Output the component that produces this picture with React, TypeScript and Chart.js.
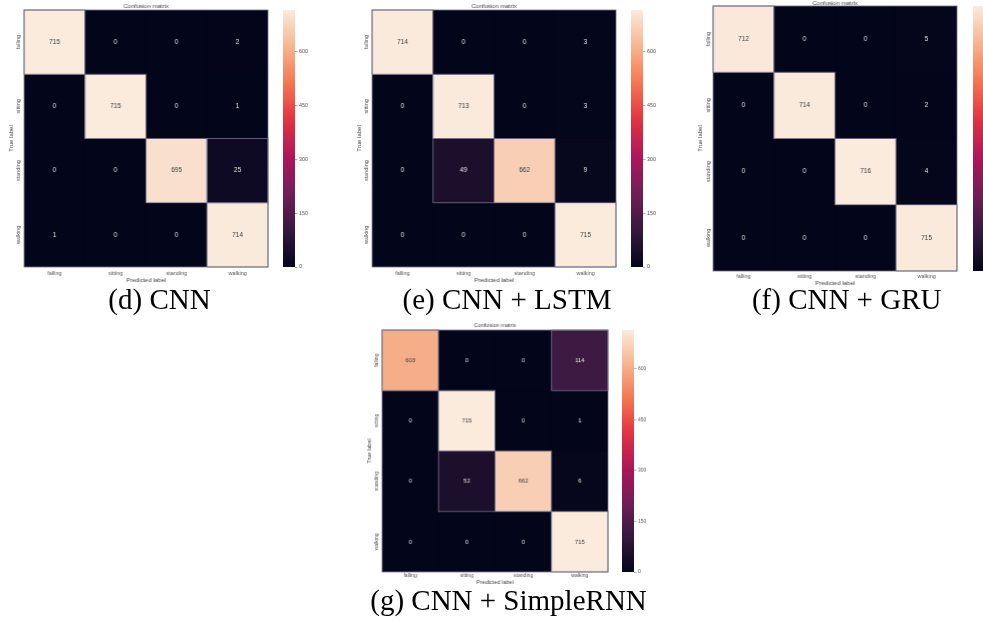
import React, { useEffect, useRef } from 'react';
import { Chart, registerables } from 'chart.js';

Chart.register(...registerables);

// ---------------- data ----------------
const CLASSES = ['falling', 'sitting', 'standing', 'walking'];

const CM_CNN = [
  [715, 0, 0, 2],
  [0, 715, 0, 1],
  [0, 0, 695, 25],
  [1, 0, 0, 714],
];
const CM_LSTM = [
  [714, 0, 0, 3],
  [0, 713, 0, 3],
  [0, 49, 662, 9],
  [0, 0, 0, 715],
];
const CM_GRU = [
  [712, 0, 0, 5],
  [0, 714, 0, 2],
  [0, 0, 716, 4],
  [0, 0, 0, 715],
];
const CM_RNN = [
  [603, 0, 0, 114],
  [0, 715, 0, 1],
  [0, 52, 662, 6],
  [0, 0, 0, 715],
];

const COLORBAR_TICKS = [0, 150, 300, 450, 600];
const CAPTIONS = ['(d) CNN', '(e) CNN + LSTM', '(f) CNN + GRU', '(g) CNN + SimpleRNN'];
const PLOT_TITLE = 'Confusion matrix';
const X_TITLE = 'Predicted label';
const Y_TITLE = 'True label';

// ---------------- style ----------------
const FONT = '"Liberation Sans", Arial, sans-serif';
const SERIF = '"Liberation Serif", "Times New Roman", serif';
const EDGE = 'rgba(115,113,135,0.9)';

const ROCKET: [number, number[]][] = [
  [0, [3, 5, 26]],
  [1 / 7, [53, 25, 62]],
  [2 / 7, [112, 31, 87]],
  [3 / 7, [173, 23, 89]],
  [4 / 7, [225, 51, 66]],
  [5 / 7, [243, 118, 81]],
  [6 / 7, [246, 180, 143]],
  [1, [250, 235, 221]],
];

function rocket(t: number): string {
  const tt = Math.max(0, Math.min(1, t));
  for (let i = 1; i < ROCKET.length; i++) {
    const [p1, c1] = ROCKET[i];
    const [p0, c0] = ROCKET[i - 1];
    if (tt <= p1) {
      const f = (tt - p0) / (p1 - p0);
      const c = c0.map((v, k) => Math.round(v + (c1[k] - v) * f));
      return `rgb(${c[0]},${c[1]},${c[2]})`;
    }
  }
  const c = ROCKET[ROCKET.length - 1][1];
  return `rgb(${c[0]},${c[1]},${c[2]})`;
}

function isLight(t: number): boolean {
  return t > 0.6;
}

// ---------------- layout ----------------
type Panel = {
  cm: number[][];
  caption: string;
  L: number; T: number; R: number; B: number;
  cbL: number; cbR: number;
  titleY: number;
  tickGapX: number; labelGapX: number;
  tickGapY: number; labelGapY: number;
  scale: number;
  capX: number; capBase: number;
};

const PANELS: Panel[] = [
  { cm: CM_CNN, caption: CAPTIONS[0], L: 24.3, T: 10, R: 268, B: 267, cbL: 283, cbR: 295, titleY: 6,
    tickGapX: 6, labelGapX: 13, tickGapY: 6, labelGapY: 13, scale: 1, capX: 159.5, capBase: 309 },
  { cm: CM_LSTM, caption: CAPTIONS[1], L: 372.3, T: 10, R: 615.7, B: 267, cbL: 631, cbR: 643, titleY: 6,
    tickGapX: 6, labelGapX: 13, tickGapY: 5.6, labelGapY: 13, scale: 1, capX: 507, capBase: 309 },
  { cm: CM_GRU, caption: CAPTIONS[2], L: 713.3, T: 6, R: 956.7, B: 271, cbL: 972.7, cbR: 984.7, titleY: 3,
    tickGapX: 5.7, labelGapX: 12, tickGapY: 5, labelGapY: 12.6, scale: 1, capX: 846.7, capBase: 309 },
  { cm: CM_RNN, caption: CAPTIONS[3], L: 382.3, T: 330, R: 607.7, B: 571.7, cbL: 621.7, cbR: 634, titleY: 325.7,
    tickGapX: 3.8, labelGapX: 10, tickGapY: 5.6, labelGapY: 12.3, scale: 0.93, capX: 508.5, capBase: 610 },
];

const YW = 20;
const XH = 20;
const TITLE_BOX = 10;

function makeOverlay(p: Panel, vmax: number) {
  return {
    id: 'heatOverlay',
    beforeDatasetsDraw(chart: any) {
      const { ctx, chartArea: a } = chart;
      ctx.save();
      ctx.fillStyle = rocket(0);
      ctx.fillRect(a.left, a.top, a.width, a.height);
      ctx.restore();
    },
    afterDatasetsDraw(chart: any) {
      const { ctx, chartArea: a } = chart;
      ctx.save();
      // cell edges
      ctx.strokeStyle = EDGE;
      ctx.lineWidth = 0.9;
      chart.data.datasets.forEach((ds: any, i: number) => {
        const meta = chart.getDatasetMeta(i);
        meta.data.forEach((el: any, j: number) => {
          const raw = ds.data[j];
          if (raw.v <= 10) return;
          const { x, y, base, width } = el.getProps(['x', 'y', 'base', 'width'], true);
          ctx.strokeRect(x - width / 2, Math.min(y, base), width, Math.abs(base - y));
        });
      });
      ctx.strokeRect(a.left, a.top, a.width, a.height);
      // annotations
      ctx.font = `${6.4 * p.scale}px ${FONT}`;
      ctx.textAlign = 'center';
      ctx.textBaseline = 'middle';
      chart.data.datasets.forEach((ds: any, i: number) => {
        const meta = chart.getDatasetMeta(i);
        meta.data.forEach((el: any, j: number) => {
          const raw = ds.data[j];
          const c = el.getCenterPoint();
          ctx.fillStyle = isLight(raw.v / vmax) ? '#3a3a3a' : '#e6e6e6';
          ctx.fillText(String(raw.v), c.x, c.y);
        });
      });
      // rotated y tick labels
      const ys = chart.scales.y;
      ctx.font = `${5.5 * p.scale}px ${FONT}`;
      ctx.fillStyle = '#555';
      CLASSES.forEach((label, i) => {
        const yy = ys.getPixelForValue(i + 0.5);
        ctx.save();
        ctx.translate(a.left - p.tickGapY, yy);
        ctx.rotate(-Math.PI / 2);
        ctx.fillText(label, 0, 0);
        ctx.restore();
      });
      ctx.restore();
    },
  };
}

function Heatmap({ p }: { p: Panel }) {
  const ref = useRef<HTMLCanvasElement>(null);
  const top = p.T - TITLE_BOX;
  const left = p.L - YW;
  const width = YW + (p.R - p.L) + 2;
  const height = TITLE_BOX + (p.B - p.T) + XH;

  useEffect(() => {
    if (!ref.current) return;
    const vmax = Math.max(...p.cm.flat());
    const fsTick = 5.5 * p.scale;
    const fsTitle = 6 * p.scale;
    const titlePadTop = p.titleY - top - fsTitle / 2;
    const titlePadBottom = TITLE_BOX - fsTitle - titlePadTop;

    const datasets = p.cm.map((row, i) => ({
      label: CLASSES[i],
      data: row.map((v, j) => ({ x: CLASSES[j], y: 1, v })),
      backgroundColor: row.map((v) => rocket(v / vmax)),
      borderWidth: 0,
      barPercentage: 1,
      categoryPercentage: 1,
    }));

    const chart = new Chart(ref.current, {
      type: 'bar',
      data: { labels: CLASSES, datasets },
      options: {
        responsive: false,
        animation: false,
        devicePixelRatio: 1,
        layout: { padding: { left: 0, right: 2, top: 0, bottom: 0 } },
        plugins: {
          legend: { display: false },
          tooltip: { enabled: false },
          title: {
            display: true,
            text: PLOT_TITLE,
            fullSize: false,
            color: '#444',
            font: { family: FONT, size: fsTitle, lineHeight: 1, weight: 'normal' },
            padding: { top: titlePadTop, bottom: titlePadBottom },
          },
        },
        scales: {
          x: {
            type: 'category',
            stacked: true,
            offset: true,
            grid: { display: false, drawTicks: false },
            border: { display: false },
            ticks: {
              color: '#555',
              font: { family: FONT, size: fsTick, lineHeight: 1 },
              padding: p.tickGapX - fsTick / 2,
              maxRotation: 0,
              minRotation: 0,
              autoSkip: false,
            },
            title: {
              display: true,
              text: X_TITLE,
              color: '#444',
              font: { family: FONT, size: fsTitle, lineHeight: 1 },
              padding: { top: 0, bottom: XH - p.labelGapX - fsTitle / 2 },
            },
            afterFit: (s: any) => { s.height = XH; },
          },
          y: {
            type: 'linear',
            stacked: true,
            min: 0,
            max: CLASSES.length,
            reverse: true,
            grid: { display: false, drawTicks: false },
            border: { display: false },
            ticks: { display: false },
            title: {
              display: true,
              text: Y_TITLE,
              color: '#444',
              font: { family: FONT, size: fsTitle, lineHeight: 1 },
              padding: { top: YW - p.labelGapY - fsTitle / 2, bottom: 0 },
            },
            afterFit: (s: any) => { s.width = YW; },
          },
        },
      } as any,
      plugins: [makeOverlay(p, vmax)],
    });
    return () => chart.destroy();
  }, [p]);

  return (
    <canvas
      ref={ref}
      width={width}
      height={height}
      style={{ position: 'absolute', left, top, width, height }}
    />
  );
}

function Colorbar({ p }: { p: Panel }) {
  const ref = useRef<HTMLCanvasElement>(null);
  const AW = 26;
  const PAD = 6;
  const left = p.cbL;
  const top = p.T - PAD;
  const width = p.cbR - p.cbL + AW;
  const height = p.B - p.T + PAD * 2;

  useEffect(() => {
    if (!ref.current) return;
    const vmax = Math.max(...p.cm.flat());
    const chart = new Chart(ref.current, {
      type: 'bar',
      data: {
        labels: [''],
        datasets: [
          {
            data: [vmax],
            borderWidth: 0,
            barPercentage: 1,
            categoryPercentage: 1,
            backgroundColor: (c: any) => {
              const a = c.chart.chartArea;
              if (!a) return rocket(0);
              const g = c.chart.ctx.createLinearGradient(0, a.bottom, 0, a.top);
              for (let i = 0; i <= 40; i++) g.addColorStop(i / 40, rocket(i / 40));
              return g;
            },
          },
        ],
      },
      options: {
        responsive: false,
        animation: false,
        devicePixelRatio: 1,
        layout: { padding: { left: 0, right: 0, top: PAD, bottom: PAD } },
        plugins: { legend: { display: false }, tooltip: { enabled: false } },
        scales: {
          x: { display: false, offset: true },
          y: {
            position: 'right',
            min: 0,
            max: vmax,
            grid: { display: true, drawOnChartArea: false, drawTicks: true, tickLength: 2.5, color: '#777', lineWidth: 0.6 },
            border: { display: false },
            afterBuildTicks: (s: any) => { s.ticks = COLORBAR_TICKS.map((v) => ({ value: v })); },
            ticks: {
              color: '#555',
              padding: 1.5,
              font: { family: FONT, size: 5.4 * p.scale, lineHeight: 1 },
            },
            afterFit: (s: any) => { s.width = AW; },
          },
        },
      } as any,
    });
    return () => chart.destroy();
  }, [p]);

  return (
    <canvas
      ref={ref}
      width={width}
      height={height}
      style={{ position: 'absolute', left, top, width, height }}
    />
  );
}

export default function App() {
  return (
    <div
      style={{
        position: 'absolute',
        left: 0,
        top: 0,
        width: 983,
        height: 623,
        overflow: 'hidden',
        background: '#fff',
      }}
    >
      {PANELS.map((p, i) => (
        <React.Fragment key={i}>
          <Heatmap p={p} />
          <Colorbar p={p} />
          <div
            style={{
              position: 'absolute',
              left: p.capX - 200,
              width: 400,
              top: p.capBase - 24.3,
              textAlign: 'center',
              fontFamily: SERIF,
              fontSize: 29,
              lineHeight: '29px',
              color: '#000',
              whiteSpace: 'nowrap',
            }}
          >
            {p.caption}
          </div>
        </React.Fragment>
      ))}
    </div>
  );
}
